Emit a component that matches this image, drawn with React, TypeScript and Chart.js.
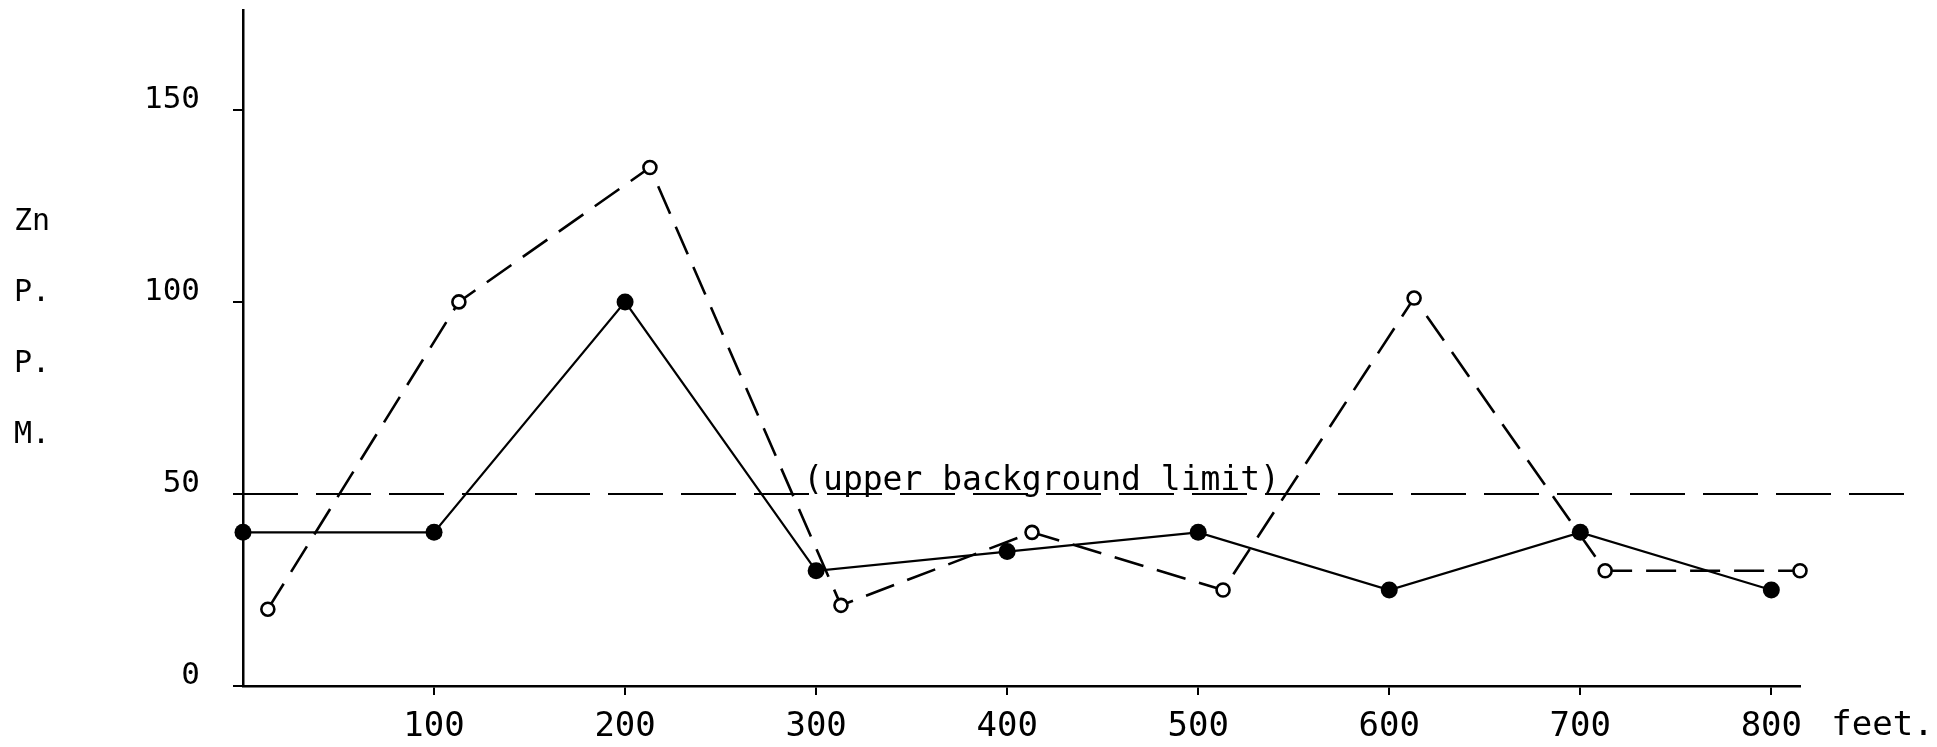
import React, { useEffect, useRef } from "react";
import { Chart, registerables } from "chart.js";

Chart.register(...registerables);

// ---- data ----
const solidFeet = [0, 100, 200, 300, 400, 500, 600, 700, 800];
const solidValues = [40, 40, 100, 30, 35, 40, 25, 40, 25];
const dashedFeet = [13, 113, 213, 313, 413, 513, 613, 713, 815];
const dashedValues = [20, 100, 135, 21, 40, 25, 101, 30, 30];
const limitFeet = [0, 874];
const limitValues = [50, 50];
const limitLabelFeet = 418;
const yTicks = [0, 50, 100, 150];
const xTicks = [100, 200, 300, 400, 500, 600, 700, 800];
const yLabelLines = ["Zn", "P.", "P.", "M."];
const limitLabel = "(upper background limit)";
const xUnit = "feet.";

const FONT = "'DejaVu Sans Mono', 'Liberation Mono', monospace";

const toPts = (xs: number[], ys: number[]) => xs.map((x, i) => ({ x, y: ys[i] }));

export default function App() {
  const ref = useRef<HTMLCanvasElement | null>(null);

  useEffect(() => {
    document.body.style.margin = "0";
    document.body.style.background = "#fff";
    const canvas = ref.current;
    if (!canvas) return;

    const extras = {
      id: "extras",
      afterDraw(chart: any) {
        const ctx = chart.ctx;
        const xs = chart.scales.x;
        const ys = chart.scales.y;
        ctx.save();
        ctx.fillStyle = "#000";
        // stacked axis title
        ctx.font = `30px ${FONT}`;
        ctx.textAlign = "left";
        ctx.textBaseline = "middle";
        yLabelLines.forEach((t, i) => {
          ctx.fillText(t, 14, chart.chartArea.top + 212 + i * 71);
        });
        // unit after last x tick label
        ctx.font = `34px ${FONT}`;
        ctx.textBaseline = "middle";
        ctx.fillText(xUnit, xs.getPixelForValue(800) + 60, chart.chartArea.bottom + 40);
        // limit label
        ctx.font = `33px ${FONT}`;
        ctx.textAlign = "center";
        ctx.textBaseline = "alphabetic";
        ctx.fillText(limitLabel, xs.getPixelForValue(limitLabelFeet), ys.getPixelForValue(50) - 4);
        ctx.restore();
      },
    };

    const chart = new Chart(canvas, {
      type: "line",
      data: {
        datasets: [
          {
            data: toPts(limitFeet, limitValues),
            borderColor: "#000",
            borderWidth: 2,
            borderDash: [55, 18],
            pointRadius: 0,
            clip: false as any,
          },
          {
            data: toPts(solidFeet, solidValues),
            borderColor: "#000",
            borderWidth: 2.2,
            pointRadius: 8.5,
            pointBackgroundColor: "#000",
            pointBorderColor: "#000",
            pointBorderWidth: 0,
            clip: false as any,
          },
          {
            data: toPts(dashedFeet, dashedValues),
            borderColor: "#000",
            borderWidth: 2.6,
            borderDash: [30, 14],
            pointRadius: 6.5,
            pointBackgroundColor: "#fff",
            pointBorderColor: "#000",
            pointBorderWidth: 2.6,
            clip: false as any,
          },
        ],
      },
      options: {
        animation: false,
        responsive: false,
        events: [],
        layout: { padding: { top: 10, right: 137, left: 0, bottom: 0 } },
        plugins: { legend: { display: false }, tooltip: { enabled: false } },
        scales: {
          x: {
            type: "linear",
            min: 0,
            max: 815,
            afterBuildTicks: (s: any) => {
              s.ticks = xTicks.map((v) => ({ value: v }));
            },
            afterFit: (s: any) => {
              s.height = 61;
              s.paddingLeft = 0;
              s.paddingRight = 0;
            },
            grid: { drawOnChartArea: false, drawTicks: true, tickLength: 9, color: "#000", lineWidth: 2 },
            border: { display: true, color: "#000", width: 2.5 },
            ticks: {
              color: "#000",
              padding: 12,
              maxRotation: 0,
              autoSkip: false,
              font: { family: FONT, size: 34 },
            },
          },
          y: {
            type: "linear",
            min: 0,
            max: 176,
            afterBuildTicks: (s: any) => {
              s.ticks = yTicks.map((v) => ({ value: v }));
            },
            afterFit: (s: any) => {
              s.width = 243;
              s.paddingTop = 0;
              s.paddingBottom = 0;
            },
            grid: { drawOnChartArea: false, drawTicks: true, tickLength: 10, color: "#000", lineWidth: 2 },
            border: { display: true, color: "#000", width: 2.5 },
            ticks: {
              color: "#000",
              padding: 33,
              labelOffset: -10,
              autoSkip: false,
              font: { family: FONT, size: 31 },
            },
          },
        },
      },
      plugins: [extras],
    });

    return () => chart.destroy();
  }, []);

  return (
    <div style={{ width: 1937, height: 747 }}>
      <canvas ref={ref} width={1937} height={747} style={{ width: 1937, height: 747, display: "block" }} />
    </div>
  );
}
